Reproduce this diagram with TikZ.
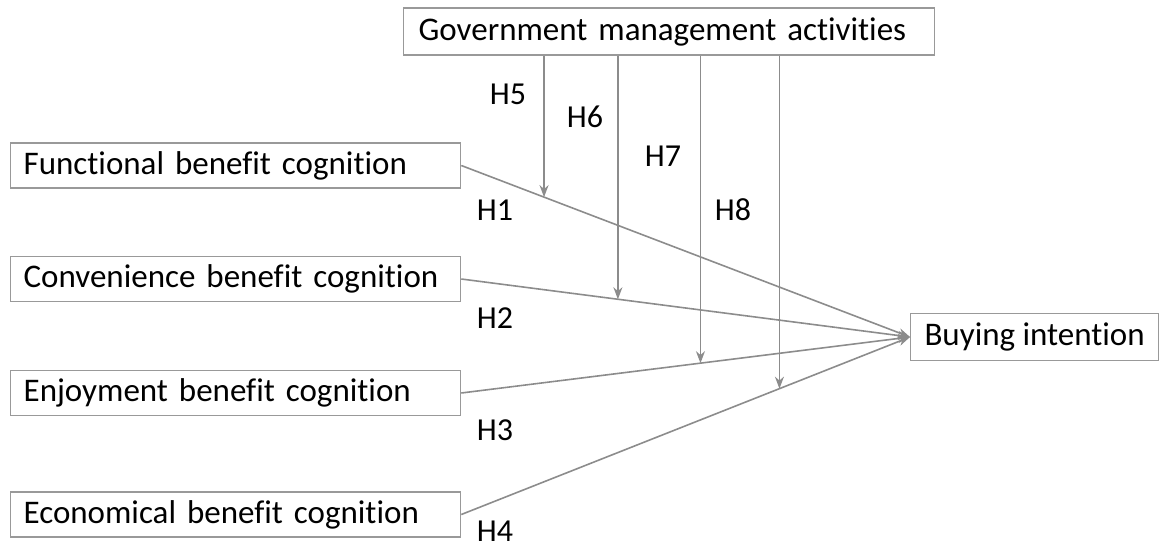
\documentclass[tikz,border=0pt]{standalone}
\usepackage{fontspec}
\setmainfont[Ligatures=NoCommon]{Carlito}
\usetikzlibrary{calc,arrows.meta}
\definecolor{lncol}{HTML}{8C8C8C}
\definecolor{bxcol}{HTML}{999999}
\tikzset{
  lbox/.style={draw=bxcol, line width=1.3pt, minimum height=45pt, text width=424pt, inner xsep=13pt, inner ysep=0pt, align=left, font=\fontsize{33}{38}\selectfont, anchor=west},
  gbox/.style={draw=bxcol, line width=1.3pt, minimum height=47pt, text width=501pt, inner xsep=15pt, inner ysep=0pt, align=left, font=\fontsize{33}{38}\selectfont, anchor=west},
  bbox/.style={draw=bxcol, line width=1.3pt, minimum height=47pt, minimum width=248pt, inner xsep=4pt, inner ysep=0pt, font=\fontsize{33}{38}\selectfont, anchor=west},
  conn/.style={draw=lncol, line width=1.6pt, -{Stealth[length=12pt,width=9pt]}},
  hlab/.style={font=\fontsize{32}{36}\selectfont, anchor=center}
}
\begin{document}
\begin{tikzpicture}[x=1pt,y=-1pt]
\useasboundingbox (0,0) rectangle (1161,550);
\node[gbox] (gov) at (403,31.5) {Government management activities};
\node[lbox] (f) at (10,165.5) {Functional benefit cognition};
\node[lbox] (c) at (10,279) {Convenience benefit cognition};
\node[lbox] (e) at (10,393) {Enjoyment benefit cognition};
\node[lbox] (n) at (10,514.5) {Economical benefit cognition};
\node[bbox] (b) at (910,337) {Buying intention};
\draw[conn] (f.east) -- (b.west);
\draw[conn] (c.east) -- (b.west);
\draw[conn] (e.east) -- (b.west);
\draw[conn] (n.east) -- (b.west);
\coordinate (m5) at ($(f.east)!0.1844!(b.west)$);
\coordinate (m6) at ($(c.east)!0.349!(b.west)$);
\coordinate (m7) at ($(e.east)!0.533!(b.west)$);
\coordinate (m8) at ($(n.east)!0.709!(b.west)$);
\draw[conn] (gov.south -| m5) -- (m5);
\draw[conn] (gov.south -| m6) -- (m6);
\draw[conn] (gov.south -| m7) -- (m7);
\draw[conn] (gov.south -| m8) -- (m8);
\node[hlab] (h5) at (508,94) {H5};
\node[hlab] (h6) at (585,117) {H6};
\node[hlab] (h7) at (663,156) {H7};
\node[hlab] (h8) at (733,210) {H8};
\node[hlab] (h1) at (495,210) {H1};
\node[hlab] (h2) at (495,318) {H2};
\node[hlab] (h3) at (495,430) {H3};
\node[hlab] (h4) at (495,531) {H4};
\end{tikzpicture}
\end{document}
